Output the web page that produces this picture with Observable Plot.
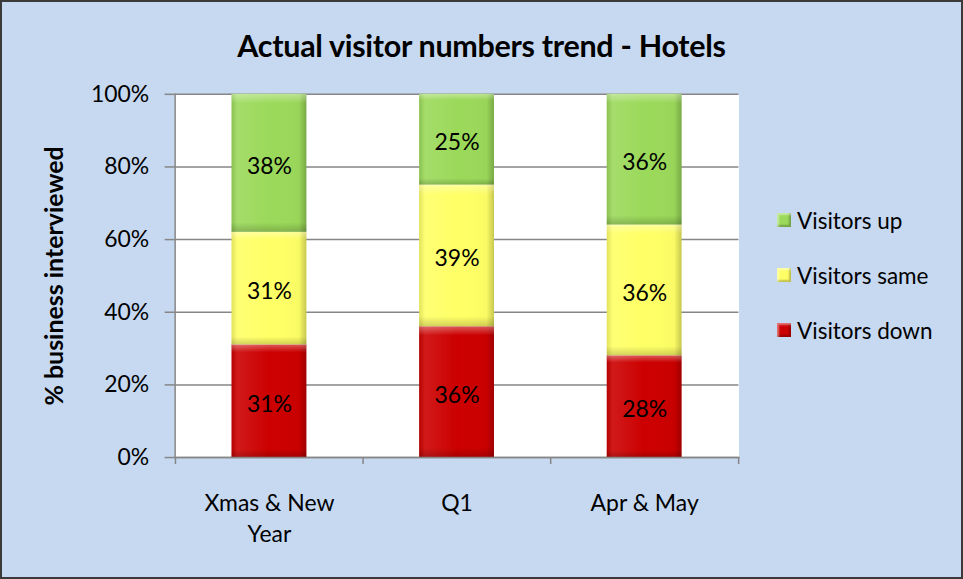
<!DOCTYPE html>
<html><head><meta charset="utf-8">
<script src="https://cdn.jsdelivr.net/npm/d3@7"></script>
<script src="https://cdn.jsdelivr.net/npm/@observablehq/plot@0.6"></script>
<style>
html,body{margin:0;padding:0;background:#fff;}
#chart{position:relative;width:963px;height:579px;background:#c6d9f1;box-sizing:border-box;border:2px solid #3a3a3a;font-family:Lato,"Open Sans",sans-serif;overflow:hidden;color:#000}
#title{position:absolute;left:-2px;width:963px;top:26px;line-height:34px;text-align:center;font-weight:bold;font-size:30.5px;letter-spacing:-0.3px}
#plot{position:absolute;left:-2px;top:-2px}
#plot g[aria-label="y-axis label"] text{font-weight:bold;font-size:25px}
.item{position:absolute;left:775px;height:26px;display:flex;align-items:center;white-space:nowrap;font-size:22.5px}
.sw{width:14px;height:14px;margin-right:6px;box-shadow:inset 2px 2px 2px rgba(255,255,255,0.45),inset -2px -2px 2px rgba(0,0,0,0.25)}
</style></head>
<body>
<div id="chart">
  <div id="plot"></div>
  <div id="title">Actual visitor numbers trend - Hotels</div>
  <div id="legend"></div>
</div>
<script>
const categories = ["Xmas & New Year", "Q1", "Apr & May"];
const xTickLabels = ["Xmas & New\nYear", "Q1", "Apr & May"];
const series = ["Visitors down", "Visitors same", "Visitors up"];
const visitorsDown = [31, 36, 28];
const visitorsSame = [31, 39, 36];
const visitorsUp = [38, 25, 36];
const seriesColors = ["#cc0000", "#ffff66", "#9bd95a"];
const yTicks = [0, 20, 40, 60, 80, 100];
const legendOrder = ["Visitors up", "Visitors same", "Visitors down"];

const values = [visitorsDown, visitorsSame, visitorsUp];
const data = [];
categories.forEach((c, i) => {
  series.forEach((s, j) => data.push({category: c, series: s, value: values[j][i]}));
});

const W = 963, H = 579, mL = 175, mR = 223, mT = 94, mB = 121;
const step = (W - mL - mR) / categories.length;
const grey = "#868686";

const svg = Plot.plot({
  width: W, height: H,
  marginLeft: mL, marginRight: mR, marginTop: mT, marginBottom: mB,
  style: {background: "transparent", fontFamily: "Lato, 'Open Sans', sans-serif", fontSize: "23px", color: "#000", overflow: "visible"},
  x: {domain: categories, paddingInner: 0.6, paddingOuter: 0.3, label: null},
  y: {domain: [0, 100], label: null},
  color: {domain: series, range: seriesColors},
  marks: [
    Plot.frame({fill: "white", stroke: null}),
    Plot.gridY(yTicks, {stroke: grey, strokeOpacity: 1, strokeWidth: 1.5}),
    Plot.barY(data, Plot.stackY({x: "category", y: "value", fill: "series"})),
    Plot.barY(data, Plot.stackY({x: "category", y: "value", fill: "url(#bevh)"})),
    Plot.barY(data, Plot.stackY({x: "category", y: "value", fill: "url(#bevv)"})),
    Plot.text(data, Plot.stackY({x: "category", y: "value", text: d => d.value + "%", fill: "#000", fontSize: 23, dy: 3})),
    Plot.frame({anchor: "left", stroke: grey, strokeWidth: 1.5}),
    Plot.frame({anchor: "bottom", stroke: grey, strokeWidth: 1.5}),
    Plot.axisY(yTicks, {tickFormat: d => d + "%", tickSize: 10, tickPadding: 16, stroke: grey, strokeWidth: 1.5, fontSize: 23,
      label: "% business interviewed", labelAnchor: "center", labelOffset: 130, labelArrow: false}),
    Plot.axisX({tickSize: 0, tickPadding: 32, fontSize: 23, lineHeight: 1.33,
      tickFormat: d => xTickLabels[categories.indexOf(d)]}),
    Plot.ruleX(categories, {x: d => d, dx: -step / 2, y1: 0, y2: 0, insetBottom: -7, stroke: grey, strokeWidth: 1.5}),
    Plot.ruleX(categories.slice(-1), {x: d => d, dx: step / 2, y1: 0, y2: 0, insetBottom: -7, stroke: grey, strokeWidth: 1.5})
  ]
});

const ns = "http://www.w3.org/2000/svg";
const defs = document.createElementNS(ns, "defs");
defs.innerHTML = `
<linearGradient id="bevh" x1="0" x2="1" y1="0" y2="0">
  <stop offset="0" stop-color="#000" stop-opacity="0.12"/>
  <stop offset="0.08" stop-color="#fff" stop-opacity="0.1"/>
  <stop offset="0.5" stop-color="#fff" stop-opacity="0"/>
  <stop offset="0.9" stop-color="#000" stop-opacity="0.02"/>
  <stop offset="1" stop-color="#000" stop-opacity="0.22"/>
</linearGradient>
<linearGradient id="bevv" x1="0" x2="0" y1="0" y2="1">
  <stop offset="0" stop-color="#fff" stop-opacity="0.35"/>
  <stop offset="0.07" stop-color="#fff" stop-opacity="0"/>
  <stop offset="0.93" stop-color="#000" stop-opacity="0"/>
  <stop offset="1" stop-color="#000" stop-opacity="0.18"/>
</linearGradient>`;
svg.insertBefore(defs, svg.firstChild);
document.getElementById("plot").appendChild(svg);

const legend = document.getElementById("legend");
const legendCenters = [220, 275, 330];
legendOrder.forEach((s, k) => {
  const item = document.createElement("div");
  item.className = "item";
  item.style.top = (legendCenters[k] - 2 - 13) + "px";
  const sw = document.createElement("span");
  sw.className = "sw";
  sw.style.background = seriesColors[series.indexOf(s)];
  const t = document.createElement("span");
  t.textContent = s;
  item.appendChild(sw); item.appendChild(t);
  legend.appendChild(item);
});
</script>
</body></html>
